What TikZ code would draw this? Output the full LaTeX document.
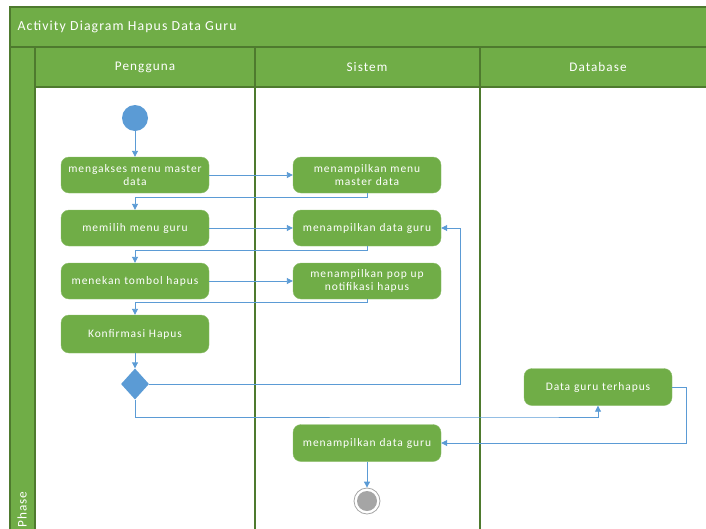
\documentclass[tikz,border=0pt]{standalone}
\usepackage{fontspec}
\setmainfont{Carlito}
\newfontfamily\spacedfont[LetterSpace=8]{Carlito}
\usetikzlibrary{arrows.meta,shapes.geometric}
\definecolor{lanegreen}{HTML}{70AD47}
\definecolor{lanedark}{HTML}{4E7A2E}
\definecolor{flowblue}{HTML}{5B9BD5}
\definecolor{endgrey}{HTML}{A5A5A5}
\tikzset{
  act/.style={draw=lanegreen!80!white, fill=lanegreen, rounded corners=8pt,
    minimum width=148pt, minimum height=36pt, inner sep=0pt, text width=144pt,
    align=center, text=white, font=\spacedfont\fontsize{11.5}{13.5}\selectfont},
  flow/.style={draw=flowblue, line width=0.9pt, -{Triangle[width=6pt,length=6pt]}},
  hdr/.style={draw=lanedark, line width=1.2pt, fill=lanegreen},
  hdrtext/.style={text=white, font=\spacedfont\fontsize{13.2}{15}\selectfont},
}
\begin{document}
\begin{tikzpicture}[x=1pt,y=-1pt]
\useasboundingbox (0,0) rectangle (706,528);
% swimlane frame
\draw[hdr] (10,7) rectangle (712,47);
\node[hdrtext, anchor=west, font=\spacedfont\fontsize{13.8}{15}\selectfont] (title) at (14,27) {Activity Diagram Hapus Data Guru};
\draw[hdr] (10,47) rectangle (35,535);
\draw[hdr] (35,47) rectangle (255,87);
\draw[hdr] (255,47) rectangle (480,87);
\draw[hdr] (480,47) rectangle (712,87);
\node[hdrtext] (lane1) at (145,67) {Pengguna};
\node[hdrtext] (lane2) at (367,67) {Sistem};
\node[hdrtext] (lane3) at (598,67) {Database};
\draw[lanedark, line width=1.2pt] (255,87) -- (255,535);
\draw[lanedark, line width=1.2pt] (480,87) -- (480,535);
\node[hdrtext, rotate=90, anchor=west] (phase) at (22,531) {Phase};

% start / end
\node[circle, fill=flowblue, minimum size=26pt, inner sep=0pt] (start) at (135,118) {};
\node[circle, draw=endgrey, line width=0.8pt, fill=white, minimum size=26pt, inner sep=0pt] (endo) at (367,501) {};
\node[circle, fill=endgrey, minimum size=20pt, inner sep=0pt] (endi) at (367,501) {};

% activities
\node[act] (a1) at (135,175) {mengakses menu master\\data};
\node[act] (s1) at (367,175) {menampilkan menu\\master data};
\node[act] (a2) at (135,228) {memilih menu guru};
\node[act] (s2) at (367,228) {menampilkan data guru};
\node[act] (a3) at (135,281) {menekan tombol hapus};
\node[act] (s3) at (367,281) {menampilkan pop up\\notifikasi hapus};
\node[act, minimum height=38pt] (a4) at (135,334) {Konfirmasi Hapus};
\node[diamond, fill=flowblue, minimum width=28pt, minimum height=31pt, inner sep=0pt, aspect=0.9] (dec) at (135,384) {};
\node[act, minimum height=37pt] (d1) at (598,387) {Data guru terhapus};
\node[act, minimum height=37pt] (s4) at (367,443) {menampilkan data guru};

% flows
\draw[flow] (start) -- (a1);
\draw[flow] (a1) -- (s1);
\draw[flow] (s1.south) -- ++(0,4) -| (a2.north);
\draw[flow] (a2) -- (s2);
\draw[flow] (s2.south) -- ++(0,4) -| (a3.north);
\draw[flow] (a3) -- (s3);
\draw[flow] (s3.south) -- ++(0,3) -| (a4.north);
\draw[flow] (a4) -- (dec);
\draw[flow] (dec.east) -- (460,384) |- (s2.east);
\draw[flow] (dec.south) |- (520,417) -| (d1.south);
\draw[flow] (d1.east) -- (686,387) |- (s4.east);
\draw[flow] (s4) -- (endo);
\end{tikzpicture}
\end{document}
